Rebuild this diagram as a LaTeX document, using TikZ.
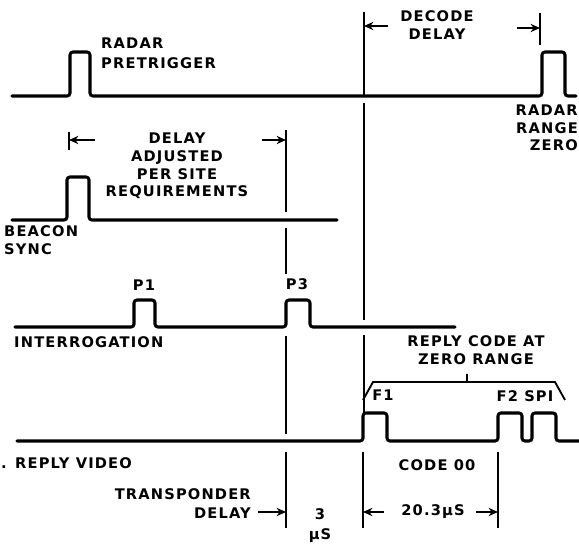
\documentclass[tikz,border=0pt]{standalone}
\usepackage{fontspec}
\newfontfamily\diaglbl[LetterSpace=8]{DejaVu Sans}
\usetikzlibrary{arrows.meta}

\begin{document}
\begin{tikzpicture}[
    x=0.03cm, y=-0.03cm,
    trace/.style={line width=2.6pt, rounded corners=2.5pt, line cap=round},
    marker/.style={line width=1.6pt},
    dim/.style={line width=1.6pt, -{Stealth[length=8pt,width=7pt]}},
    lbl/.style={font=\diaglbl\bfseries\fontsize{12.5}{15}\selectfont, inner sep=0pt}
]
\useasboundingbox (0,0) rectangle (579,544);

% signal traces
\draw[trace] (12,96) -- (70,96) -- (70,52) -- (90,52) -- (90,96) -- (542,96)
    -- (542,52) -- (565,52) -- (565,96) -- (576,96);
\draw[trace] (12,220) -- (67,220) -- (67,177) -- (89,177) -- (89,220) -- (337,220);
\draw[trace] (15,327) -- (134,327) -- (134,300) -- (155,300) -- (155,327)
    -- (286,327) -- (286,300) -- (310,300) -- (310,327) -- (455,327);
\draw[trace] (17,441) -- (363,441) -- (363,413) -- (387,413) -- (387,441)
    -- (498,441) -- (498,413) -- (522,413) -- (522,441) -- (532,441)
    -- (532,413) -- (556,413) -- (556,441) -- (579,441);

% timing markers
\draw[marker] (364,12) -- (364,96) (364,103) -- (364,320) (364,335) -- (364,413);
\draw[marker] (540,13) -- (540,45);
\draw[marker] (69,132) -- (69,150);
\draw[marker] (286,130) -- (286,212) (286,228) -- (286,274) (286,336) -- (286,434);
\draw[marker] (286,452) -- (286,528) (363,452) -- (363,528) (498,452) -- (498,528);
\draw[marker] (363,400) -- (373,382) -- (555,382) -- (565,400) (467,382) -- (467,374);

\coordinate (dec-l) at (364,26);
\coordinate (dec-r) at (540,28);
\coordinate (adj-l) at (69,140);
\coordinate (adj-r) at (286,140);
\coordinate (tr-r) at (286,512);
\coordinate (cd-l) at (363,512);
\coordinate (cd-r) at (498,512);

\draw[dim] (388,26) -- (dec-l);
\draw[dim] (517,28) -- (dec-r);
\draw[dim] (95,140) -- (adj-l);
\draw[dim] (262,140) -- (adj-r);
\draw[dim] (258,512) -- (tr-r);
\draw[dim] (384,512) -- (cd-l);
\draw[dim] (476,512) -- (cd-r);

% labels
\node[lbl, anchor=west, align=left] (pretrig) at (101,53) {RADAR\\[2pt]PRETRIGGER};
\node[lbl, align=center] (decode) at (437,25) {DECODE\\DELAY};
\node[lbl, anchor=east, align=right] (rangezero) at (578,128) {RADAR\\RANGE\\ZERO};
\node[lbl, align=center] (adjust) at (177,166) {DELAY\\ADJUSTED\\PER SITE\\REQUIREMENTS};
\node[lbl, anchor=west, align=left] (beacon) at (4,240) {BEACON\\SYNC};
\node[lbl] (pone) at (144,285) {P1};
\node[lbl] (pthree) at (297,284) {P3};
\node[lbl, anchor=west] (interr) at (14,342) {INTERROGATION};
\node[lbl, align=center] (replycode) at (476,350) {REPLY CODE AT\\ZERO RANGE};
\node[lbl] (fone) at (383,395) {F1};
\node[lbl] (ftwo) at (525,396) {F2 SPI};
\node[lbl, anchor=west] (video) at (1,463) {. REPLY VIDEO};
\node[lbl] (code) at (437,465) {CODE 00};
\node[lbl, anchor=east] (transp) at (251,494) {TRANSPONDER};
\node[lbl, anchor=east] (tdelay) at (251,513) {DELAY};
\node[lbl] (three) at (320,514) {3};
\node[lbl] (micro) at (320,536) {µS};
\node[lbl] (twenty) at (433,512) {20.3µS};

\end{tikzpicture}
\end{document}
